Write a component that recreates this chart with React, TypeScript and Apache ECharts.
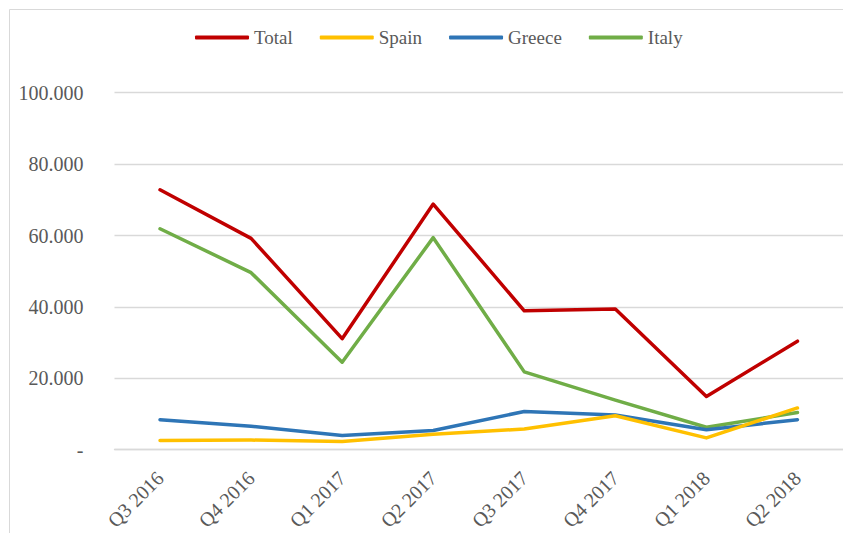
import React, { useEffect, useRef } from "react";
import * as echarts from "echarts";

const categories = ["Q3 2016", "Q4 2016", "Q1 2017", "Q2 2017", "Q3 2017", "Q4 2017", "Q1 2018", "Q2 2018"];
const totalValues = [72800, 59200, 31100, 68800, 38900, 39400, 14900, 30400];
const spainValues = [2600, 2700, 2300, 4300, 5800, 9500, 3300, 11700];
const greeceValues = [8400, 6600, 4000, 5400, 10700, 9700, 5600, 8400];
const italyValues = [61900, 49600, 24500, 59400, 21800, 13900, 6300, 10400];

const seriesNames = ["Total", "Spain", "Greece", "Italy"];
const seriesColors = ["#C00000", "#FFC000", "#2E75B6", "#70AD47"];

const FONT = "'Liberation Serif', serif";
const TEXT_COLOR = "#595959";
const GRID_COLOR = "#D9D9D9";

export default function App() {
  const ref = useRef<HTMLDivElement>(null);
  useEffect(() => {
    if (!ref.current) return;
    const chart = echarts.init(ref.current, undefined, { renderer: "svg" });
    const data = [totalValues, spainValues, greeceValues, italyValues];
    chart.setOption({
      animation: false,
      backgroundColor: "#ffffff",
      graphic: [
        {
          type: "rect",
          shape: { x: 9.5, y: 9.5, width: 900, height: 600 },
          style: { fill: "none", stroke: GRID_COLOR, lineWidth: 1 },
          silent: true,
          z: -1,
        },
      ],
      legend: {
        left: 190,
        top: 23,
        icon: "roundRect",
        itemWidth: 54,
        itemHeight: 4,
        itemGap: 27,
        textStyle: { fontFamily: FONT, fontSize: 19, color: TEXT_COLOR },
        data: seriesNames,
      },
      grid: { left: 114.5, right: -15, top: 92.7, bottom: 80.3, containLabel: false },
      xAxis: {
        type: "category",
        data: categories,
        boundaryGap: true,
        axisLine: { lineStyle: { color: GRID_COLOR, width: 1.3 } },
        axisTick: { show: false },
        axisLabel: {
          rotate: 45,
          margin: 25,
          fontFamily: FONT,
          fontSize: 20,
          color: TEXT_COLOR,
          interval: 0,
        },
      },
      yAxis: {
        type: "value",
        min: 0,
        max: 100000,
        interval: 20000,
        axisLine: { show: false },
        axisTick: { show: false },
        splitLine: { lineStyle: { color: GRID_COLOR, width: 1.3 } },
        axisLabel: {
          margin: 31,
          fontFamily: FONT,
          fontSize: 20,
          color: TEXT_COLOR,
          formatter: (v: number) => (v === 0 ? "-" : `${v / 1000}.000`),
        },
      },
      series: seriesNames.map((name, i) => ({
        name,
        type: "line",
        data: data[i],
        symbol: "none",
        showSymbol: false,
        color: seriesColors[i],
        itemStyle: { color: seriesColors[i] },
        lineStyle: { width: 3.5, color: seriesColors[i], cap: "round", join: "round" },
        z: 10 - i,
      })),
    });
    return () => chart.dispose();
  }, []);
  return (
    <div
      ref={ref}
      style={{ position: "absolute", left: 0, top: 0, width: 843, height: 533 }}
    />
  );
}
